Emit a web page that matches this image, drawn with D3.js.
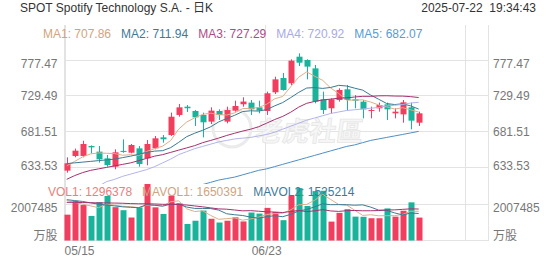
<!DOCTYPE html>
<html>
<head>
<meta charset="utf-8">
<script src="https://cdn.jsdelivr.net/npm/d3@7"></script>
<style>
  html, body { margin: 0; padding: 0; background: #fff; }
  svg { display: block; font-family: "Liberation Sans", Arial, "Noto Sans CJK SC", sans-serif; }
</style>
</head>
<body>
<div id="chart"></div>
<script>
// --- data ---
const dates = ["05/15","05/16","05/19","05/20","05/21","05/22","05/23","05/27","05/28","05/29","05/30",
  "06/02","06/03","06/04","06/05","06/06","06/09","06/10","06/11","06/12","06/13","06/16","06/17","06/18","06/20",
  "06/23","06/24","06/25","06/26","06/27","06/30","07/01","07/02","07/03","07/07","07/08","07/09","07/10","07/11",
  "07/14","07/15","07/16","07/17","07/18","07/21"];
const opens = [629.6,649.2,649.2,662.5,655.0,646.0,634.9,656.0,653.6,659.4,646.0,659.4,674.1,677.2,704.0,715.1,709.3,704.0,695.1,709.3,
  695.1,709.8,718.3,720.5,714.2,709.3,734.3,753.4,746.3,781.9,777.5,766.3,724.9,712.9,724.0,738.3,724.9,721.8,709.3,712.9,
  718.2,706.2,704.8,714.2,693.7];
const highs = [647.4,659.0,669.6,663.4,662.5,650.5,658.1,671.4,665.2,662.5,670.5,675.9,677.2,707.1,718.7,717.3,710.6,707.1,714.2,711.5,
  715.1,723.1,727.6,724.0,723.1,735.2,755.2,760.1,778.4,786.4,778.4,770.8,735.2,726.2,739.6,744.1,730.7,724.0,715.1,720.5,
  720.5,712.9,724.0,720.5,708.4];
const lows = [626.9,647.4,647.4,652.7,640.3,634.9,631.4,653.5,652.7,634.9,636.7,658.1,667.0,675.9,701.7,708.0,689.3,674.1,691.9,697.3,
  692.8,708.4,715.1,704.0,706.2,704.0,732.0,736.5,744.1,769.4,751.6,719.6,705.3,706.2,721.8,709.8,712.9,699.5,699.5,708.4,
  697.3,699.5,693.7,684.8,689.3];
const closes = [639.4,656.3,665.2,660.7,644.7,637.1,654.1,654.6,663.9,638.5,665.2,672.8,671.5,701.7,714.2,713.0,700.8,694.2,709.8,704.0,
  710.6,716.0,721.9,711.5,709.8,733.0,751.6,737.4,776.6,773.9,768.6,721.8,710.6,724.9,737.4,724.0,723.1,711.5,710.6,717.3,
  711.5,708.4,720.9,696.4,706.2];
const volumes = [1460000,2230000,2000000,1390000,2160000,2510000,1880000,1710000,1300000,1870000,3180000,1870000,1500000,2520000,2100000,
  940000,1120000,1690000,1230000,1020000,1120000,1310000,1080000,1580000,1520000,1840000,1610000,1150000,2520000,2950000,
  1950000,2780000,2800000,1070000,1560000,1770000,1350000,1340000,1260000,1260000,1810000,1350000,1680000,2150000,1296378];

const ma1 = [636,642,648,652,653.3,652.8,652.4,650.2,650.9,649.6,655.3,659.0,662.4,669.9,685.1,694.6,700.2,704.8,706.4,704.4,
  703.9,706.9,712.5,712.8,714.0,718.4,725.6,728.7,741.7,754.5,761.6,755.7,750.3,740.0,732.7,723.7,724.0,724.2,721.3,717.3,
  714.8,711.9,713.7,710.9,707.9];
const ma2 = [639,640,641,642,643,644,645,647,649,651.5,654.0,655.7,656.3,660.4,667.4,675.0,679.6,683.6,688.2,694.7,
  699.3,703.6,708.6,709.6,709.2,711.2,716.2,720.6,727.2,734.2,740.0,740.6,739.5,740.8,743.6,742.7,739.8,737.2,730.6,725.0,
  719.3,717.9,719.0,716.1,711.9];
const ma3 = [618,623,627,630,632,634,636,638,640,643,646,649,651,654,657,660,663,667,670,673.1,
  676.6,679.6,682.5,685.0,688.3,693.1,697.9,702.1,707.7,714.5,719.6,722.1,724.1,725.2,726.4,726.9,728.0,728.9,728.9,729.6,
  729.7,729.3,729.2,728.5,727.3];
const ma4 = [null,null,null,null,609,615,618,622,625,628,631,635,640,645,651,655,659,662,665,668,
  670,672,673,674,676,678,681,685,689,693,697,700,703,706,708,710,711,712,713,714,
  716,717,718,720,720.9];
const ma5 = [null,null,null,null,null,null,null,null,null,null,null,null,null,null,null,null,609,611,614,617,
  619,621,624,627,630,632,635,638,641,644,647,650,653,656,659,662,664,667,670,672,
  674,676,678,680,682.1];

const mavol1 = [2250000,2150000,2050000,1950000,1848000,2058000,1988000,1930000,1912000,1854000,1988000,1986000,1944000,2188000,2234000,
  1786000,1636000,1674000,1416000,1200000,1236000,1274000,1152000,1222000,1322000,1466000,1526000,1540000,1728000,2014000,
  2036000,2270000,2600000,2310000,2032000,1996000,1710000,1418000,1456000,1396000,1404000,1404000,1472000,1650000,1650391];
const mavol2 = [2300000,2250000,2200000,2120000,2050000,2000000,1950000,1900000,1870000,1851000,2023000,1987000,1937000,2050000,2044000,
  1887000,1811000,1809000,1802000,1717000,1511000,1455000,1413000,1319000,1261000,1351000,1400000,1346000,1475000,1668000,
  1751000,1898000,2070000,2019000,2023000,2016000,1990000,2009000,1883000,1714000,1700000,1557000,1445000,1553000,1525214];
const mavol3 = [2150000,2150000,2140000,2130000,2120000,2120000,2110000,2100000,2080000,2070000,2070000,2060000,2040000,2040000,2030000,
  2000000,1950000,1900000,1840000,1784000,1767000,1721000,1675000,1685000,1653000,1619000,1606000,1578000,1639000,1693000,
  1631000,1677000,1742000,1669000,1642000,1684000,1695000,1678000,1679000,1691000,1726000,1728000,1758000,1786000,1775000];

const priceTicks = [633.53, 681.51, 729.49, 777.47];
const volTicks = [2007485];
const dateTicks = ["05/15", "06/23"];
const maNames = ["MA1", "MA2", "MA3", "MA4", "MA5"];
const maValues = ["707.86", "711.94", "727.29", "720.92", "682.07"];
const volNames = ["VOL1", "MAVOL1", "MAVOL2"];
const volValues = ["1296378", "1650391", "1525214"];

// --- layout ---
const W = 552, H = 265;
const plotL = 64, plotR = 488, plotT = 25, split = 184, plotB = 240.7;
const UP = "#f23e5e", DOWN = "#19b39b", GRID = "#e3e3e3", LABEL = "#777";
const maColors = ["#dcae8c", "#3a7a93", "#a6306f", "#b3b3ea", "#4e8fc6"];
const maText = ["#d0a47f", "#3d7a99", "#b04a86", "#a9a9e4", "#5a9bd0"];
const volLineColors = ["#dcae8c", "#3a7a93", "#a6306f"];
const volText = ["#e8807d", "#d0a47f", "#3d7a99"];

const svg = d3.select("#chart").append("svg").attr("width", W).attr("height", H);

const x = d3.scaleLinear().domain([0, 50]).range([66.7, 466.7]);
const y = d3.scaleLinear().domain([633.53, 777.47]).range([167.7, 60]);
const yv = d3.scaleLinear().domain([0, 2007485]).range([plotB, 204.9]);

const defs = svg.append("defs");
defs.append("clipPath").attr("id", "kclip").append("rect")
  .attr("x", plotL).attr("y", plotT).attr("width", plotR - plotL).attr("height", split - plotT);
defs.append("clipPath").attr("id", "vclip").append("rect")
  .attr("x", plotL).attr("y", split - 2).attr("width", plotR - plotL).attr("height", plotB - split + 2);

// header
svg.append("text").attr("x", 20).attr("y", 12).attr("font-size", 12).attr("fill", "#333")
  .text("SPOT Spotify Technology S.A. - 日K");
svg.append("text").attr("x", 536).attr("y", 12).attr("font-size", 12).attr("fill", "#333")
  .attr("text-anchor", "end").style("white-space", "pre").text("2025-07-22  19:34:43");

// grid
const grid = svg.append("g").attr("stroke", GRID).attr("stroke-width", 1).attr("shape-rendering", "crispEdges");
grid.selectAll(".hp").data(priceTicks).join("line")
  .attr("x1", plotL).attr("x2", plotR).attr("y1", d => y(d)).attr("y2", d => y(d));
grid.selectAll(".hv").data(volTicks.concat([0])).join("line")
  .attr("x1", plotL).attr("x2", plotR).attr("y1", d => yv(d)).attr("y2", d => yv(d));
grid.selectAll(".v").data([0, 25, 50]).join("line")
  .attr("x1", d => x(d) - 1.7).attr("x2", d => x(d) - 1.7).attr("y1", plotT).attr("y2", plotB);
grid.append("line").attr("x1", plotL).attr("x2", plotL).attr("y1", plotT).attr("y2", plotB);
grid.append("line").attr("x1", plotR).attr("x2", plotR).attr("y1", plotT).attr("y2", plotB);

// watermark
const wm = svg.append("g");
wm.append("circle").attr("cx", 232).attr("cy", 128).attr("r", 19)
  .attr("fill", "none").attr("stroke", "#ebebeb").attr("stroke-width", 3);
wm.append("text").attr("x", 255).attr("y", 141).attr("font-size", 27).attr("font-weight", "bold")
  .attr("font-family", "Noto Sans CJK SC").attr("fill", "#f6f6f6").attr("stroke", "#e6e6e6").attr("stroke-width", 0.8)
  .attr("transform", "skewX(-8) translate(19,0)")
  .text("老虎社區");

// axis labels
const yLabelNudge = d => d === 777.47 ? 3.5 : (d === 633.53 ? -2 : 0);
[[57.5, "end"], [493, "start"]].forEach(([lx, anchor]) => {
  const g = svg.append("g").attr("font-size", 12).attr("fill", LABEL).attr("text-anchor", anchor);
  g.selectAll(".p").data(priceTicks).join("text")
    .attr("x", lx).attr("y", d => y(d) + yLabelNudge(d)).attr("dy", "0.35em").text(d => d.toFixed(2));
  g.selectAll(".q").data(volTicks).join("text")
    .attr("x", lx).attr("y", d => yv(d) + 2.4).attr("dy", "0.35em").text(d => d);
  g.append("text").attr("x", lx).attr("y", 236).attr("dy", "0.35em").text("万股");
});

svg.append("g").attr("font-size", 12).attr("fill", LABEL)
  .selectAll("text").data(dateTicks).join("text")
  .attr("x", d => Math.max(x(dates.indexOf(d)), 65 + 14.5))
  .attr("y", 255).attr("text-anchor", "middle").text(d => d);

function legend(names, values, colors, x0, yb) {
  const g = svg.append("g").attr("font-size", 12);
  let cx = x0;
  names.forEach((n, i) => {
    const t = g.append("text").attr("x", cx).attr("y", yb).attr("fill", colors[i])
      .style("white-space", "pre").text(n + ": " + values[i]);
    cx += t.node().getComputedTextLength() + 10;
  });
}
legend(maNames, maValues, maText, 43, 38);

// candles
const k = svg.append("g").attr("clip-path", "url(#kclip)");
const idx = d3.range(dates.length);
const col = i => closes[i] >= opens[i] ? UP : DOWN;
k.selectAll(".wick").data(idx).join("line")
  .attr("x1", i => Math.round(x(i)) + 0.5).attr("x2", i => Math.round(x(i)) + 0.5)
  .attr("y1", i => y(highs[i])).attr("y2", i => y(lows[i]))
  .attr("stroke", col).attr("stroke-width", 1);
k.selectAll(".body").data(idx).join("rect")
  .attr("x", i => Math.round(x(i)) - 2.5).attr("width", 6)
  .attr("y", i => y(Math.max(opens[i], closes[i])))
  .attr("height", i => Math.max(1, Math.abs(y(opens[i]) - y(closes[i]))))
  .attr("fill", col);

// volume bars
const v = svg.append("g").attr("clip-path", "url(#vclip)");
v.selectAll("rect").data(idx).join("rect")
  .attr("x", i => Math.round(x(i)) - 2.5).attr("width", 6)
  .attr("y", i => yv(volumes[i])).attr("height", i => yv(0) - yv(volumes[i]))
  .attr("fill", col);

// volume legend sits over the bars, the average lines run over it
legend(volNames, volValues, volText, 48, 196);

// MA lines
const line = d3.line().defined(d => d != null).x((d, i) => x(i)).y(d => y(d));
const kl = svg.append("g").attr("clip-path", "url(#kclip)");
[ma1, ma2, ma3, ma4, ma5].forEach((arr, j) => {
  kl.append("path").datum(arr).attr("d", line)
    .attr("fill", "none").attr("stroke", maColors[j]).attr("stroke-width", 1);
});

const vline = d3.line().x((d, i) => x(i)).y(d => yv(d));
const vl = svg.append("g").attr("clip-path", "url(#vclip)");
[mavol1, mavol2, mavol3].forEach((arr, j) => {
  vl.append("path").datum(arr).attr("d", vline)
    .attr("fill", "none").attr("stroke", volLineColors[j]).attr("stroke-width", 1);
});
</script>
</body>
</html>
